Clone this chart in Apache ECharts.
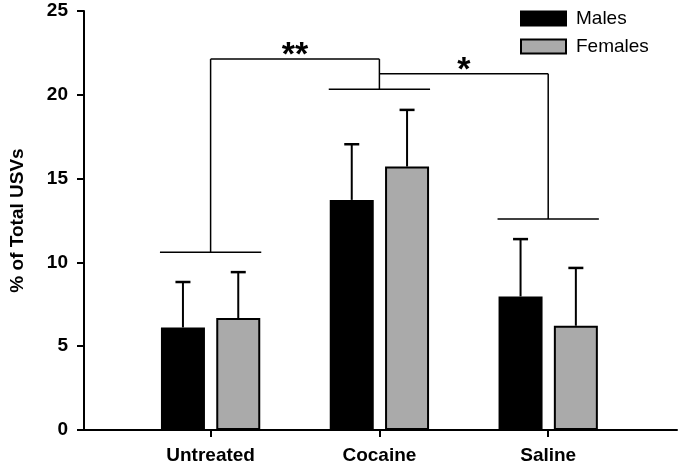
<!DOCTYPE html>
<html><head><meta charset="utf-8">
<script src="https://cdn.jsdelivr.net/npm/echarts@6/dist/echarts.min.js"></script>
<style>html,body{margin:0;padding:0;background:#fff}#c{width:681px;height:470px}</style>
</head><body><div id="c"></div>
<script>
// ---- data ----
const categories = ['Untreated', 'Cocaine', 'Saline'];
const males = [6.12, 13.73, 7.97];
const females = [6.68, 15.72, 6.22];
const malesErrTop = [8.83, 17.05, 11.39];
const femalesErrTop = [9.42, 19.1, 9.67];
const groupBracketLevels = [10.6, 20.33, 12.59];
const compFrom = [0, 1];
const compTo = [1, 2];
const compLevels = [22.13, 21.25];
const compLabels = ['**', '*'];
const yTicks = [0, 5, 10, 15, 20, 25];

// ---- style constants ----
const FONT = 'Liberation Sans, Arial, Helvetica, sans-serif';
const BAR_W = 44;
const BAR_GAP = 0.257;
const HALF_OFF = BAR_W * (1 + BAR_GAP) / 2;
const PAIR_HALF = HALF_OFF + BAR_W / 2 + 1;
const CAP_W = 15;

const chart = echarts.init(document.getElementById('c'), null, {renderer: 'canvas'});

function errRender(offset) {
  return function (params, api) {
    const x = api.value(0);
    const lo = api.coord([x, api.value(1)]);
    const hi = api.coord([x, api.value(2)]);
    const cx = lo[0] + offset;
    return {
      type: 'group',
      children: [
        {type: 'line', shape: {x1: cx, y1: lo[1], x2: cx, y2: hi[1]}, style: {stroke: '#000', lineWidth: 2}},
        {type: 'line', shape: {x1: cx - CAP_W / 2, y1: hi[1], x2: cx + CAP_W / 2, y2: hi[1]}, style: {stroke: '#000', lineWidth: 2.5}}
      ]
    };
  };
}

function groupTop(i) {
  let t = groupBracketLevels[i];
  compLevels.forEach((lv, k) => { if (compFrom[k] === i || compTo[k] === i) t = Math.max(t, lv); });
  return t;
}

const bracketData = categories.map((c, i) => [i, groupBracketLevels[i], groupTop(i)]);
const compData = compLevels.map((lv, k) => [compFrom[k], compTo[k], lv, k]);

const option = {
  animation: false,
  backgroundColor: '#fff',
  textStyle: {fontFamily: FONT},
  grid: {left: 77, right: 4, top: 11, bottom: 40, containLabel: false},
  legend: {
    data: ['Males', 'Females'],
    orient: 'vertical',
    left: 520, top: 9,
    padding: 0,
    itemWidth: 45, itemHeight: 14, itemGap: 9,
    icon: 'rect',
    textStyle: {fontFamily: FONT, fontSize: 19, color: '#000', padding: [0, 0, 0, 5], lineHeight: 14}
  },
  xAxis: {
    type: 'value',
    min: -0.75, max: 2.763,
    splitLine: {show: false},
    axisLine: {show: true, onZero: false, lineStyle: {color: '#000', width: 2}},
    axisTick: {show: true, length: 7, lineStyle: {color: '#000', width: 2}, customValues: [0, 1, 2]},
    axisLabel: {
      customValues: [0, 1, 2],
      formatter: v => categories[Math.round(v)],
      fontFamily: FONT, fontSize: 19, fontWeight: 'bold', color: '#000', margin: 16
    }
  },
  yAxis: {
    type: 'value',
    min: 0, max: 25, interval: 5,
    name: '% of Total USVs',
    nameLocation: 'middle',
    nameGap: 57,
    nameTextStyle: {fontFamily: FONT, fontSize: 19, fontWeight: 'bold', color: '#000'},
    splitLine: {show: false},
    axisLine: {show: true, onZero: false, lineStyle: {color: '#000', width: 2}},
    axisTick: {show: true, length: 7, lineStyle: {color: '#000', width: 2}},
    axisLabel: {fontFamily: FONT, fontSize: 19, fontWeight: 'bold', color: '#000', margin: 16}
  },
  series: [
    {
      name: 'Males', type: 'bar',
      barWidth: BAR_W, barGap: (BAR_GAP * 100) + '%',
      data: males.map((v, i) => [i, v]),
      itemStyle: {color: '#000', borderColor: '#000', borderWidth: 2},
      z: 3
    },
    {
      name: 'Females', type: 'bar',
      barWidth: BAR_W, barGap: (BAR_GAP * 100) + '%',
      data: females.map((v, i) => [i, v]),
      itemStyle: {color: '#aaaaaa', borderColor: '#000', borderWidth: 2},
      z: 3
    },
    {
      type: 'custom', name: 'errM', silent: true, z: 2,
      renderItem: errRender(-HALF_OFF),
      data: males.map((v, i) => [i, v, malesErrTop[i]])
    },
    {
      type: 'custom', name: 'errF', silent: true, z: 2,
      renderItem: errRender(HALF_OFF),
      data: females.map((v, i) => [i, v, femalesErrTop[i]])
    },
    {
      type: 'custom', name: 'groupBrackets', silent: true, z: 2,
      renderItem: function (params, api) {
        const x = api.value(0);
        const b = api.coord([x, api.value(1)]);
        const t = api.coord([x, api.value(2)]);
        return {
          type: 'group',
          children: [
            {type: 'line', shape: {x1: b[0] - PAIR_HALF, y1: b[1], x2: b[0] + PAIR_HALF, y2: b[1]}, style: {stroke: '#000', lineWidth: 1.5}},
            {type: 'line', shape: {x1: b[0], y1: b[1], x2: t[0], y2: t[1]}, style: {stroke: '#000', lineWidth: 1.5}}
          ]
        };
      },
      data: bracketData
    },
    {
      type: 'custom', name: 'comparisons', silent: true, z: 2,
      renderItem: function (params, api) {
        const a = api.coord([api.value(0), api.value(2)]);
        const b = api.coord([api.value(1), api.value(2)]);
        const k = api.value(3);
        return {
          type: 'group',
          children: [
            {type: 'line', shape: {x1: a[0], y1: a[1], x2: b[0], y2: b[1]}, style: {stroke: '#000', lineWidth: 1.5}},
            {type: 'text', x: (a[0] + b[0]) / 2, y: a[1] - 3.5,
              style: {text: compLabels[k], fontFamily: FONT, fontSize: 34, fontWeight: 'bold', fill: '#000', align: 'center', verticalAlign: 'middle'}}
          ]
        };
      },
      data: compData
    }
  ]
};
chart.setOption(option);
</script>
</body></html>
